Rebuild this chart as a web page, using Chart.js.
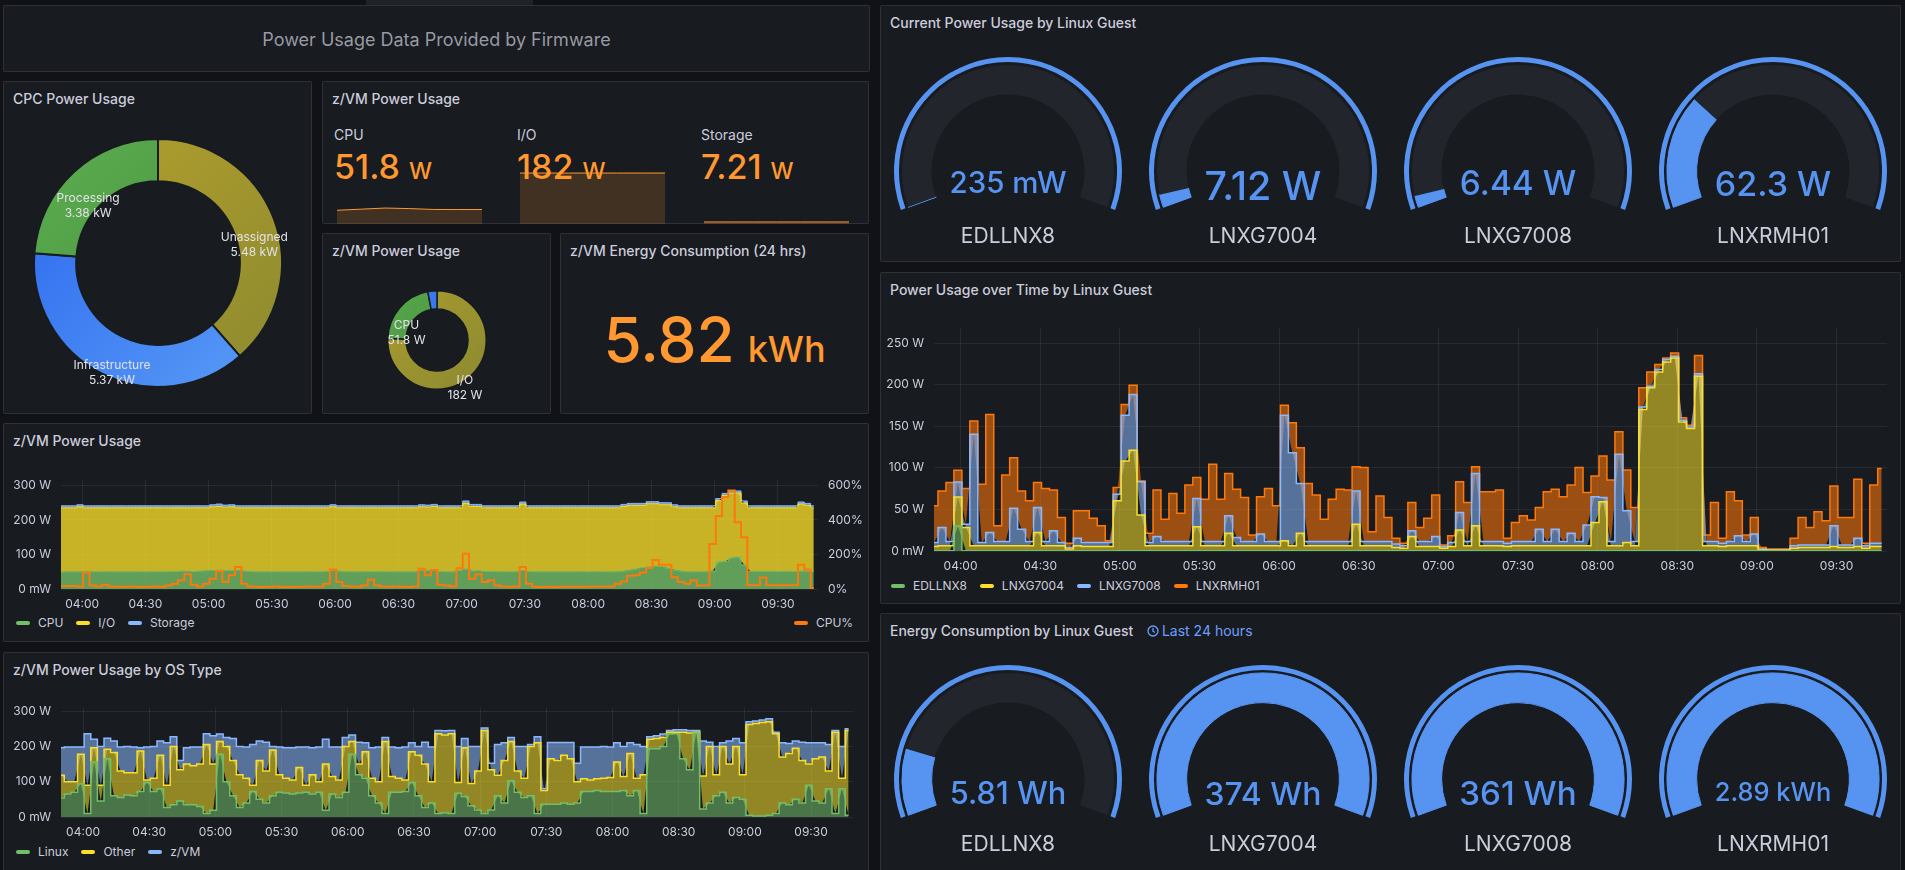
<!DOCTYPE html>
<html>
<head>
<meta charset="utf-8">
<title>Power Usage</title>
<script src="https://cdn.jsdelivr.net/npm/chart.js@4.4.0/dist/chart.umd.min.js"></script>
<style>
  body { margin:0; width:1905px; height:870px; overflow:hidden; background:#111217; font-family:Inter, sans-serif; color:#ccccdc; position:relative; }
  .panel { position:absolute; background:#181b1f; border:1px solid rgba(204,204,220,0.12); border-radius:2px; box-sizing:border-box; }
  .ptitle { position:absolute; left:9px; top:8px; font-size:14px; font-weight:500; line-height:18px; color:#ccccdc; white-space:nowrap; }
  canvas { position:absolute; }
  .txt { position:absolute; white-space:nowrap; line-height:1; }
  .legend { position:absolute; display:flex; align-items:center; font-size:12px; line-height:16px; color:#ccccdc; }
  .legend .item { display:flex; align-items:center; margin-right:13px; }
  .legend .mark { width:14px; height:4px; border-radius:2px; margin-right:8px; }
</style>
</head>
<body>
<div style="position:absolute;left:366px;top:0;width:167px;height:5px;background:#202226;"></div>
<div class="panel" style="left:3px;top:5px;width:867px;height:67px;">
  <div style="position:absolute;left:0;right:0;top:24px;text-align:center;font-size:18px;line-height:20px;color:rgba(204,204,220,0.72);">Power Usage Data Provided by Firmware</div>
</div>
<div class="panel" style="left:3px;top:81px;width:309px;height:333px;"><div class="ptitle">CPC Power Usage</div></div>
<div class="panel" style="left:322px;top:81px;width:547px;height:143px;"><div class="ptitle">z/VM Power Usage</div></div>
<div class="panel" style="left:322px;top:233px;width:229px;height:181px;"><div class="ptitle">z/VM Power Usage</div></div>
<div class="panel" style="left:560px;top:233px;width:309px;height:181px;"><div class="ptitle">z/VM Energy Consumption (24 hrs)</div></div>
<div class="panel" style="left:3px;top:423px;width:866px;height:219px;"><div class="ptitle">z/VM Power Usage</div></div>
<div class="panel" style="left:3px;top:652px;width:866px;height:230px;"><div class="ptitle">z/VM Power Usage by OS Type</div></div>
<div class="panel" style="left:880px;top:5px;width:1021px;height:257px;"><div class="ptitle">Current Power Usage by Linux Guest</div></div>
<div class="panel" style="left:880px;top:272px;width:1021px;height:332px;"><div class="ptitle">Power Usage over Time by Linux Guest</div></div>
<div class="panel" style="left:880px;top:613px;width:1021px;height:269px;">
  <div class="ptitle">Energy Consumption by Linux Guest
    <span style="color:#6e9fff;font-weight:400;margin-left:10px;">
      <svg width="12" height="12" viewBox="0 0 12 12" style="vertical-align:-1px;margin-right:3px"><circle cx="6" cy="6" r="5" fill="none" stroke="#6e9fff" stroke-width="1.3"/><path d="M6 3v3.2l2 1.3" fill="none" stroke="#6e9fff" stroke-width="1.3"/></svg>Last 24 hours</span>
  </div>
</div>

<script>
// ---- data ----
const startMin = 230;   // first sample 03:50, minutes since midnight
const stepMin = 3;
const endMin = 589;     // 09:49

const cpcNames = ['Unassigned', 'Infrastructure', 'Processing'];
const cpcValues = [5480, 5370, 3380];            // W

const statNames = ['CPU', 'I/O', 'Storage'];
const statValues = [51.8, 182, 7.21];            // W
const cpuSpark = [49, 53, 57, 55, 52, 51.8, 51.8];
const ioSpark = [182, 182, 182, 182, 182, 182, 182];
const storageSpark = [7.21, 7.21, 7.21, 7.21, 7.21, 7.21, 7.21];

const pieNames = ['I/O', 'CPU', 'Storage'];
const pieValues = [182, 51.8, 7.21];             // W
const energyTotal = 5820;                        // Wh, 24 hrs

const guests = ['EDLLNX8', 'LNXG7004', 'LNXG7008', 'LNXRMH01'];
const guestPower = [0.235, 7.12, 6.44, 62.3];    // W
const guestEnergy = [5.81, 374, 361, 2890];      // Wh
const powerGaugeMax = 220;
const energyGaugeMax = 35;

// z/VM power usage, 3 min steps 03:50 .. 09:47
const zvmCpu = [
  49,50,50,50,51,50,50,50,50,50, 50,50,50,50,50,50,50,50,51,52,
  52,51,52,53,54,55,53,54,55,52, 51,50,50,50,50,50,50,50,50,50,
  50,50,51,54,52,50,50,50,50,51, 50,50,50,50,50,50,50,54,53,55,
  51,50,50,54,58,52,53,51,51,50, 50,50,50,54,51,50,50,50,50,50,
  50,50,50,50,50,50,50,50,50,52, 55,58,62,65,66,65,60,55,52,50,
  50,50,50,52,78,80,90,93,70,51, 51,51,51,51,51,51,51,52,52,51];
const zvmIo = [
  186,185,185,188,184,185,185,185,185,185, 185,185,185,185,185,185,185,185,184,183,
  183,184,183,182,184,184,184,184,180,183, 184,185,185,185,185,185,185,185,185,185,
  185,185,184,184,183,185,185,185,185,184, 185,185,185,185,185,185,185,184,184,184,
  184,185,185,181,190,187,186,184,184,185, 185,185,185,192,184,185,185,185,185,185,
  185,185,185,185,185,185,185,185,185,187, 187,184,180,182,181,179,184,183,183,185,
  185,185,185,183,178,191,187,185,179,184, 184,184,184,184,184,184,184,194,190,184];
const zvmStorage = [
  6,6,6,6,6,6,6,6,6,6, 6,6,6,6,6,6,6,6,6,6, 6,6,6,6,6,7,6,6,6,6, 6,6,6,6,6,6,6,6,6,6,
  6,6,6,6,6,6,6,6,6,6, 6,6,6,6,6,6,6,6,6,6, 6,6,6,6,7,6,6,6,6,6, 6,6,6,6,6,6,6,6,6,6,
  6,6,6,6,6,6,6,6,6,6, 6,6,6,6,6,6,6,6,6,6, 6,6,6,6,6,6,6,6,6,6, 6,6,6,6,6,6,6,6,6,6];
const zvmCpuPct = [
  18,18,18,15,95,20,15,25,15,13, 13,15,13,12,13,15,13,20,30,50,
  86,25,15,30,60,104,40,80,128,30, 15,13,12,13,15,12,13,12,13,15,
  13,15,30,113,40,18,15,13,20,53, 20,15,13,15,13,12,15,117,80,110,
  25,20,15,120,204,60,86,40,50,20, 15,13,15,128,30,13,12,13,12,13,
  13,13,13,13,15,15,15,15,30,44, 77,80,95,122,168,140,140,68,40,30,
  50,20,20,260,423,533,570,387,300,22, 22,67,22,22,22,22,22,140,113,4];

// z/VM power usage by OS type
const osLinux = [
  54,65,70,94,10,156,45,165,60,55, 62,60,72,98,72,80,27,35,45,35,
  35,30,10,19,178,100,60,27,40,72, 50,40,60,70,68,65,68,70,65,70,
  19,65,55,70,178,120,110,60,40,10, 70,70,72,98,60,27,40,10,12,10,
  67,58,32,20,10,20,60,40,103,70, 55,60,10,36,36,36,40,36,40,72,
  72,75,72,72,72,75,60,75,10,193, 193,200,235,236,165,134,238,23,40,60,
  70,40,55,50,5,3,3,5,10,40, 35,50,40,90,45,40,80,10,80,5];
const osOther = [
  64,35,30,84,80,40,45,27,123,75, 63,65,115,7,38,95,63,165,89,115,
  110,120,195,131,36,100,100,93,70,18, 110,90,130,50,42,40,72,20,55,30,
  131,50,50,130,36,30,75,50,60,204, 45,40,33,87,115,123,60,226,220,226,
  31,138,63,110,235,114,58,120,111,60, 55,140,200,39,129,124,135,129,60,36,
  33,33,38,40,84,40,120,35,110,27, 29,25,5,4,75,104,2,93,160,60,
  130,110,145,70,257,262,265,265,226,130, 145,145,120,60,120,130,50,230,30,240];
const osZvm = [
  78,98,98,20,146,24,110,31,32,68, 75,73,9,93,90,40,120,27,26,46,
  53,48,31,80,21,25,62,80,88,115, 55,82,10,78,86,91,58,108,76,98,
  70,83,93,25,18,62,25,86,98,11, 83,86,93,25,25,62,98,9,12,9,
  102,26,105,70,7,18,87,50,11,70, 90,5,17,5,46,51,36,46,52,90,
  93,90,90,86,54,85,30,95,80,7, 8,10,5,7,7,7,5,99,12,80,
  10,65,22,90,8,7,7,8,4,40, 28,20,52,60,45,40,75,5,90,5];

// power usage by Linux guest
const lxEdl = [
  0.3,0.3,0.3,30,0.3,0.3,0.3,0.3,0.3,0.3, 0.3,0.3,0.3,0.3,0.3,0.3,0.3,0.3,0.3,0.3,
  0.3,0.3,0.3,0.3,0.3,0.3,0.3,0.3,0.3,0.3, 0.3,0.3,0.3,0.3,0.3,0.3,0.3,0.3,0.3,0.3,
  0.3,0.3,0.3,0.3,0.3,0.3,0.3,0.3,0.3,0.3, 0.3,0.3,0.3,0.3,0.3,0.3,0.3,0.3,0.3,0.3,
  0.3,0.3,0.3,0.3,0.3,0.3,0.3,0.3,0.3,0.3, 0.3,0.3,0.3,0.3,0.3,0.3,0.3,0.3,0.3,0.3,
  0.3,0.3,0.3,0.3,0.3,0.3,0.3,0.3,0.3,0.3, 0.3,0.3,0.3,0.3,0.3,0.3,0.3,0.3,0.3,0.3,
  0.3,0.3,0.3,0.3,0.3,0.3,0.3,0.3,0.3,0.3, 0.3,0.3,0.3,0.3,0.3,0.3,0.3,0.3,0.3,0.3];
const lxG7004 = [
  5,6,6,35,28,6,6,6,6,6, 6,6,6,22,6,6,6,2,6,5,
  5,5,5,60,108,121,43,6,6,6, 6,6,6,29,6,6,6,21,6,6,
  6,6,6,6,12,6,21,6,6,6, 6,6,6,32,6,6,6,6,4,3,
  17,5,5,5,3,5,25,6,30,6, 6,6,5,6,6,6,6,6,6,6,
  6,6,6,34,59,6,6,10,6,170, 196,215,227,232,155,147,210,6,6,5,
  6,6,6,6,1,0.5,0.5,0.5,3,4, 4,4,4,5,4,4,5,3,5,5];
const lxG7008 = [
  5,22,5,18,4,134,4,16,5,5, 45,20,5,30,5,18,4,2,9,5,
  5,5,5,8,55,67,40,4,11,5, 5,5,5,34,5,5,5,21,10,5,
  5,14,5,5,151,112,60,5,5,5, 5,5,5,40,5,5,5,5,4,3,
  7,6,6,12,2,5,21,5,63,5, 5,5,4,5,5,5,20,5,20,5,
  15,5,25,31,5,5,110,38,5,3, 2,3,3,2,2,2,3,5,5,4,
  5,12,5,14,1,0.5,0.5,0.5,3,3, 3,3,3,25,3,3,10,3,4,4];
const lxRmh01 = [
  44,44,71,14,43,16,70,142,19,80, 61,46,49,30,64,49,30,5,33,38,
  29,20,2,8,13,11,1,11,56,27, 58,34,68,25,51,93,51,51,58,53,
  8,45,64,43,12,36,43,70,56,27, 51,63,62,29,89,12,55,29,7,3,
  34,17,28,50,2,8,37,47,8,60, 60,62,6,23,31,26,26,60,48,54,
  58,89,39,25,50,74,27,49,41,23, 17,6,2,4,3,2,22,8,47,6,
  60,42,8,20,2,1,1,1,9,33, 21,40,29,48,33,33,71,3,70,90];

// ---- helpers ----
const green = '#73BF69', yellow = '#FADE2A', blue = '#8AB8FF', orange = '#FF780A';
const gaugeBlue = '#5794F2', gaugeTrack = '#22252b', statOrange = '#FF9830';
const gridColor = 'rgba(204,204,220,0.09)';

Chart.defaults.font.family = 'Inter';
Chart.defaults.font.size = 12;
Chart.defaults.color = '#ccccdc';
Chart.defaults.animation = false;
Chart.defaults.responsive = false;
Chart.defaults.plugins.legend.display = false;
Chart.defaults.plugins.tooltip.enabled = false;

function rgba(hex, a) {
  const n = parseInt(hex.slice(1), 16);
  return 'rgba(' + (n >> 16) + ',' + ((n >> 8) & 255) + ',' + (n & 255) + ',' + a + ')';
}
function canvasAt(x, y, w, h) {
  const c = document.createElement('canvas');
  c.width = w; c.height = h;
  c.style.left = x + 'px'; c.style.top = y + 'px';
  document.body.appendChild(c);
  return c;
}
function textAt(x, y, html, style) {
  const d = document.createElement('div');
  d.className = 'txt';
  d.style.cssText += 'left:' + x + 'px;top:' + y + 'px;' + (style || '');
  d.innerHTML = html;
  document.body.appendChild(d);
  return d;
}
function legendAt(x, y, names, colors) {
  const d = document.createElement('div');
  d.className = 'legend';
  d.style.left = x + 'px'; d.style.top = (y - 8) + 'px';
  names.forEach((n, i) => {
    d.innerHTML += '<div class="item"><span class="mark" style="background:' + colors[i] + '"></span>' + n + '</div>';
  });
  document.body.appendChild(d);
  return d;
}
function fmt(v, unit) {
  if (v < 1) return [(v * 1000).toPrecision(3), 'm' + unit];
  if (v >= 1000) return [(v / 1000).toPrecision(3), 'k' + unit];
  return [v.toPrecision(3), unit];
}
function hhmm(v) {
  return String(Math.floor(v / 60)).padStart(2, '0') + ':' + String(v % 60).padStart(2, '0');
}
function wattTick(v) { return v === 0 ? '0 mW' : v + ' W'; }
function timeData(vals) { return vals.map((v, i) => ({ x: startMin + i * stepMin, y: v })); }

function area(label, vals, color, alpha, width) {
  return { label: label, data: timeData(vals), borderColor: color, backgroundColor: rgba(color, alpha),
           borderWidth: width, fill: 'stack', stepped: 'middle', pointRadius: 0 };
}
function xScale() {
  return { type: 'linear', min: startMin, max: endMin,
    grid: { color: gridColor, drawTicks: false }, border: { display: false },
    ticks: { stepSize: 30, includeBounds: false, autoSkip: false, maxRotation: 0, padding: 8, callback: hhmm },
    afterFit: s => { s.height = 25; } };
}
function yScale(max, step, width, cb, pos, grid) {
  return { stacked: pos === 'left', position: pos, min: 0, max: max,
    grid: { display: grid, color: gridColor, drawTicks: false }, border: { display: false },
    ticks: { stepSize: step, includeBounds: false, autoSkip: false, padding: 10, callback: cb },
    afterFit: s => { s.width = width; } };
}

const sliceLabels = {
  id: 'sliceLabels',
  afterDatasetsDraw(chart, args, opts) {
    const ctx = chart.ctx, meta = chart.getDatasetMeta(0);
    ctx.save();
    ctx.font = '12px Inter';
    ctx.fillStyle = '#e2e2ea';
    ctx.textAlign = 'center';
    ctx.textBaseline = 'middle';
    meta.data.forEach((arc, i) => {
      const lines = opts.lines[i];
      if (!lines) return;
      const p = arc.getProps(['x', 'y', 'startAngle', 'endAngle', 'innerRadius', 'outerRadius']);
      const a = (p.startAngle + p.endAngle) / 2, r = (p.innerRadius + p.outerRadius) / 2;
      const x = p.x + Math.cos(a) * r, y = p.y + Math.sin(a) * r + opts.dy;
      lines.forEach((t, k) => ctx.fillText(t, x, y + (k - (lines.length - 1) / 2) * 15));
    });
    ctx.restore();
  }
};
// one scriptable colour for the whole dataset, a diagonal gradient per slice
function sliceColors(pairs) {
  return ctx => {
    const p = pairs[ctx.dataIndex], a = ctx.chart.chartArea;
    if (typeof p === 'string') return p;
    if (!a) return p[0];
    const g = ctx.chart.ctx.createLinearGradient(a.left, a.top, a.right, a.bottom);
    g.addColorStop(0, p[0]);
    g.addColorStop(1, p[1]);
    return g;
  };
}

// ---- CPC power usage donut ----
new Chart(canvasAt(23, 128, 270, 270), {
  type: 'doughnut',
  data: { labels: cpcNames, datasets: [{
    data: cpcValues,
    backgroundColor: sliceColors([['#b5a02b', '#8c8a30'], ['#2b66ef', '#5a9df6'], ['#5dad50', '#3d8a39']]),
    borderColor: '#181b1f', borderWidth: 2 }] },
  options: { cutout: '66%', layout: { padding: 10 },
    plugins: { sliceLabels: { dy: 18, lines: cpcNames.map((n, i) => [n, fmt(cpcValues[i], 'W').join(' ')]) } } },
  plugins: [sliceLabels]
});

// ---- z/VM stat panel with sparklines ----
const statX = [334, 517, 701];
const sparks = [cpuSpark, ioSpark, storageSpark];
statNames.forEach((n, i) => {
  textAt(statX[i], 128, n, 'font-size:14px;');
  const f = fmt(statValues[i], 'W');
  textAt(statX[i], 150, f[0] + '<span style="font-size:23px;margin-left:9px;">' + f[1] + '</span>',
         'font-size:34px;font-weight:500;color:' + statOrange + ';');
  new Chart(canvasAt(statX[i] + 3, 168, 145, 56), {
    type: 'line',
    data: { labels: sparks[i].map((v, k) => k), datasets: [{ data: sparks[i], borderColor: statOrange,
      backgroundColor: 'rgba(255,152,48,0.18)', borderWidth: 1, fill: 'origin', pointRadius: 0 }] },
    options: { scales: { x: { display: false }, y: { display: false, min: 0, max: 200 } } }
  });
});

// ---- z/VM power usage donut ----
new Chart(canvasAt(367, 270, 140, 140), {
  type: 'doughnut',
  data: { labels: pieNames, datasets: [{
    data: pieValues,
    backgroundColor: sliceColors([['#aa9b2e', '#8b8a30'], ['#58a84c', '#3f8a3a'], '#3a78ef']),
    borderColor: '#181b1f', borderWidth: 1.5 }] },
  options: { cutout: '63%', layout: { padding: 20 },
    plugins: { sliceLabels: { dy: 19, lines: pieNames.map((n, i) => i < 2 ? [n, fmt(pieValues[i], 'W').join(' ')] : null) } } },
  plugins: [sliceLabels]
});

// ---- z/VM energy ----
const ef = fmt(energyTotal, 'Wh');
textAt(560, 309, ef[0] + '<span style="font-size:36px;margin-left:13px;">' + ef[1] + '</span>',
       'width:309px;text-align:center;font-size:62px;font-weight:500;color:' + statOrange + ';');

// ---- z/VM power usage time series ----
new Chart(canvasAt(3, 462, 866, 152), {
  type: 'line',
  data: { datasets: [
    area('CPU', zvmCpu, green, 0.8, 1),
    area('I/O', zvmIo, yellow, 0.78, 1),
    area('Storage', zvmStorage, blue, 0.8, 1),
    { label: 'CPU%', data: timeData(zvmCpuPct), yAxisID: 'y1', borderColor: orange, borderWidth: 2,
      fill: false, stepped: 'middle', pointRadius: 0, order: -1 }
  ] },
  options: { layout: { padding: { top: 10 } },
    scales: { x: xScale(), y: yScale(318, 100, 58, wattTick, 'left', true),
              y1: yScale(636, 100, 51, v => v % 200 === 0 ? v + '%' : '', 'right', false) } }
});
legendAt(16, 623, ['CPU', 'I/O', 'Storage'], [green, yellow, blue]);
legendAt(794, 623, ['CPU%'], [orange]);

// ---- z/VM power usage by OS type ----
new Chart(canvasAt(3, 690, 866, 152), {
  type: 'line',
  data: { datasets: [
    area('Linux', osLinux, green, 0.55, 1.5),
    area('Other', osOther, yellow, 0.55, 1.5),
    area('z/VM', osZvm, blue, 0.55, 1.5)
  ] },
  options: { layout: { padding: { top: 10, right: 16 } },
    scales: { x: xScale(), y: yScale(311, 100, 58, wattTick, 'left', true) } }
});
legendAt(16, 852, ['Linux', 'Other', 'z/VM'], [green, yellow, blue]);

// ---- power usage over time by Linux guest ----
new Chart(canvasAt(880, 311, 1021, 265), {
  type: 'line',
  data: { datasets: [
    area(guests[0], lxEdl, green, 0.55, 1.5),
    area(guests[1], lxG7004, yellow, 0.55, 1.5),
    area(guests[2], lxG7008, blue, 0.55, 1.5),
    area(guests[3], lxRmh01, orange, 0.57, 1.5)
  ] },
  options: { layout: { padding: { top: 10, right: 14 } },
    scales: { x: xScale(), y: yScale(268, 50, 54, wattTick, 'left', true) } }
});
legendAt(891, 586, guests, [green, yellow, blue, orange]);

// ---- gauges ----
function gauge(cx, top, value, max) {
  new Chart(canvasAt(cx - 114, top, 228, 153), {
    type: 'doughnut',
    data: { datasets: [
      { data: [1], backgroundColor: [gaugeBlue], borderWidth: 0, weight: 5 },
      { data: [1], backgroundColor: ['rgba(0,0,0,0)'], borderWidth: 0, weight: 3 },
      { data: [Math.min(value, max), Math.max(max - value, 0)], backgroundColor: [gaugeBlue, gaugeTrack],
        borderColor: [gaugeBlue, gaugeTrack], borderWidth: [1, 0], weight: 30 }
    ] },
    options: { rotation: -110, circumference: 220, cutout: '67%' }
  });
}
// gauge value text is sized to fill a fixed width, like the reference
function gaugeValue(cx, capTop, text) {
  const d = textAt(cx - 100, 0, text, 'font-size:30px;font-weight:500;color:' + gaugeBlue + ';');
  const size = Math.min(42, 30 * 117 / d.offsetWidth);
  d.style.fontSize = size + 'px';
  d.style.width = '200px';
  d.style.textAlign = 'center';
  d.style.top = (capTop - 0.1365 * size) + 'px';
}
guests.forEach((g, i) => {
  const cx = Math.round(880 + 127.6 + 255.25 * i);
  gauge(cx, 57, guestPower[i], powerGaugeMax);
  gaugeValue(cx, 172, fmt(guestPower[i], 'W').join(' '));
  textAt(cx - 100, 235, g, 'width:200px;text-align:center;font-size:21px;transform:translateY(-50%);');

  gauge(cx, 665, guestEnergy[i], energyGaugeMax);
  gaugeValue(cx, 782, fmt(guestEnergy[i], 'Wh').join(' '));
  textAt(cx - 100, 843, g, 'width:200px;text-align:center;font-size:21px;transform:translateY(-50%);');
});
</script>
</body>
</html>
